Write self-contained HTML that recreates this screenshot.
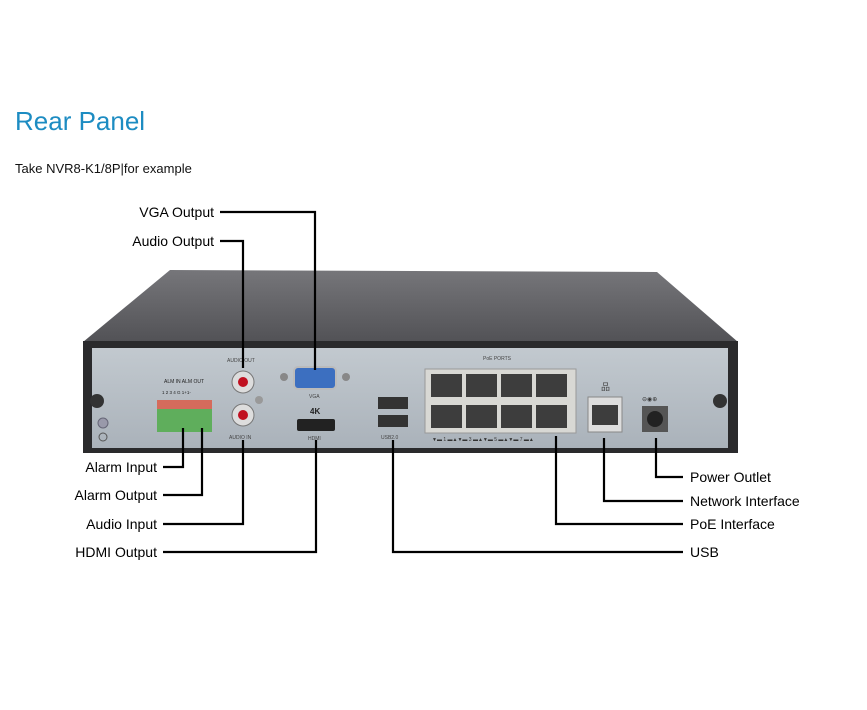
<!DOCTYPE html>
<html><head><meta charset="utf-8"><style>
html,body{margin:0;padding:0;background:#fff;}
body{width:867px;height:710px;position:relative;overflow:hidden;font-family:"Liberation Sans",sans-serif;}
</style></head><body>
<svg width="867" height="710" viewBox="0 0 867 710" xmlns="http://www.w3.org/2000/svg" style="position:absolute;left:0;top:0">
<defs>
<linearGradient id="top" x1="0" y1="0" x2="0" y2="1"><stop offset="0" stop-color="#76767a"/><stop offset="1" stop-color="#525256"/></linearGradient>
<linearGradient id="pan" x1="0" y1="0" x2="0" y2="1"><stop offset="0" stop-color="#c2c9cf"/><stop offset="1" stop-color="#aab2ba"/></linearGradient>
</defs>
<text x="15" y="130" font-size="26" fill="#1d8cc2" font-family="Liberation Sans">Rear Panel</text>
<text x="15" y="173" font-size="13" fill="#111">Take NVR8-K1/8P<tspan fill="#111">|</tspan>for example</text>
<!-- device -->
<polygon points="83,342 170,270 657,272 738,342" fill="url(#top)"/>
<rect x="83" y="341" width="655" height="112" fill="#2a2a2c"/>
<rect x="92" y="348" width="636" height="100" fill="url(#pan)"/>
<circle cx="97" cy="401" r="7" fill="#333"/><circle cx="720" cy="401" r="7" fill="#333"/>
<circle cx="103" cy="423" r="5" fill="#99a" stroke="#667"/><circle cx="103" cy="437" r="4" fill="none" stroke="#555"/>
<!-- alarm -->
<text x="164" y="383" font-size="5" fill="#222">ALM IN  ALM OUT</text>
<text x="162" y="394" font-size="4.5" fill="#222">1 2 3 4 G 1+1-</text>
<rect x="157" y="400" width="55" height="9" fill="#d56b5c"/>
<rect x="157" y="409" width="55" height="23" fill="#5fae5c"/>
<!-- audio -->
<text x="227" y="362" font-size="5" fill="#444">AUDIO OUT</text>
<circle cx="243" cy="382" r="11" fill="#ddd" stroke="#777"/><circle cx="243" cy="382" r="5" fill="#c01020"/>
<circle cx="243" cy="415" r="11" fill="#ddd" stroke="#777"/><circle cx="243" cy="415" r="5" fill="#c01020"/>
<circle cx="259" cy="400" r="4" fill="#999"/>
<text x="229" y="439" font-size="5" fill="#444">AUDIO IN</text>
<!-- vga -->
<circle cx="284" cy="377" r="4" fill="#888"/><circle cx="346" cy="377" r="4" fill="#888"/>
<rect x="294" y="367" width="42" height="22" rx="4" fill="#3c6fc0" stroke="#bbb" stroke-width="2"/>
<text x="309" y="398" font-size="5" fill="#444">VGA</text>
<text x="310" y="414" font-size="8" font-weight="bold" fill="#222">4K</text>
<rect x="297" y="419" width="38" height="12" rx="2" fill="#222"/>
<text x="308" y="440" font-size="5" fill="#444">HDMI</text>
<!-- usb -->
<rect x="378" y="397" width="30" height="12" fill="#333"/><rect x="378" y="415" width="30" height="12" fill="#333"/>
<text x="381" y="439" font-size="5" fill="#444">USB2.0</text>
<!-- poe -->
<text x="483" y="360" font-size="5" fill="#444">PoE PORTS</text>
<rect x="425" y="369" width="151" height="64" fill="#d8d8d4" stroke="#999"/>
<g fill="#3d3d3d">
<rect x="431" y="374" width="31" height="23"/><rect x="466" y="374" width="31" height="23"/><rect x="501" y="374" width="31" height="23"/><rect x="536" y="374" width="31" height="23"/>
<rect x="431" y="405" width="31" height="23"/><rect x="466" y="405" width="31" height="23"/><rect x="501" y="405" width="31" height="23"/><rect x="536" y="405" width="31" height="23"/>
</g>
<text x="432" y="441" font-size="5" fill="#333">▼▬ 1 ▬▲▼▬ 3 ▬▲▼▬ 5 ▬▲▼▬ 7 ▬▲</text>
<rect x="588" y="397" width="34" height="35" fill="#ddd" stroke="#888"/><rect x="592" y="405" width="26" height="20" fill="#3d3d3d"/>
<text x="601" y="390" font-size="9" fill="#444">品</text>
<text x="642" y="401" font-size="6" fill="#333">⊖◉⊕</text>
<rect x="642" y="406" width="26" height="26" fill="#555"/><circle cx="655" cy="419" r="8" fill="#222"/>
<!-- connector lines -->
<g fill="none" stroke="#000" stroke-width="2.2">
<polyline points="220,212 315,212 315,370"/>
<polyline points="220,241 243,241 243,368"/>
<polyline points="163,467 183,467 183,428"/>
<polyline points="163,495 202,495 202,428"/>
<polyline points="163,524 243,524 243,440"/>
<polyline points="163,552 316,552 316,440"/>
<polyline points="393,440 393,552 683,552"/>
<polyline points="556,436 556,524 683,524"/>
<polyline points="604,438 604,501 683,501"/>
<polyline points="656,438 656,477 683,477"/>
</g>
<g font-size="14" fill="#000" text-anchor="end">
<text x="214" y="217">VGA Output</text>
<text x="214" y="246">Audio Output</text>
<text x="157" y="472">Alarm Input</text>
<text x="157" y="500">Alarm Output</text>
<text x="157" y="529">Audio Input</text>
<text x="157" y="557">HDMI Output</text>
</g>
<g font-size="14" fill="#000">
<text x="690" y="482">Power Outlet</text>
<text x="690" y="506">Network Interface</text>
<text x="690" y="529">PoE Interface</text>
<text x="690" y="557">USB</text>
</g>
</svg>
</body></html>
